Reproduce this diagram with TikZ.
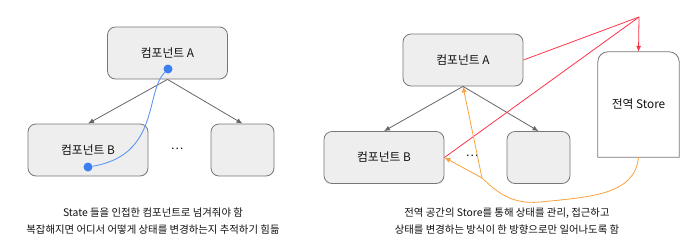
\documentclass[tikz,border=0pt]{standalone}
\usepackage{fontspec}
\setmainfont{Noto Sans CJK KR}
\usetikzlibrary{arrows.meta,positioning,calc}
\usepackage{xcolor}
\definecolor{boxfill}{HTML}{EEEEEE}
\definecolor{boxline}{HTML}{777777}
\definecolor{ink}{HTML}{111111}
\definecolor{flow}{HTML}{666666}
\definecolor{statedot}{HTML}{3B7FF0}
\definecolor{stateline}{HTML}{5E98F5}
\definecolor{storered}{HTML}{FF3348}
\definecolor{storeorange}{HTML}{F8A23E}
\tikzset{
  >=Latex,
  every node/.style={font=\fontsize{11.8}{14}\selectfont,text=ink},
  comp/.style={draw=boxline,line width=0.8pt,rounded corners=8pt,fill=boxfill,minimum width=120pt,minimum height=52pt,align=center,inner sep=0pt},
  smallcomp/.style={comp,minimum width=63pt},
  storebox/.style={minimum width=81pt,minimum height=105pt,inner sep=0pt,align=center},
  arrow/.style={->,line width=0.8pt,draw=flow,>={Latex[length=6pt,width=5pt]}},
  dot/.style={circle,fill=statedot,minimum size=9pt,inner sep=0pt},
  prop/.style={line width=0.9pt,draw=stateline},
  subscribe/.style={line width=0.8pt,draw=storered},
  dispatch/.style={line width=0.8pt,draw=storeorange},
  caption/.style={font=\fontsize{10.4}{17}\selectfont,align=center},
}
\begin{document}
\begin{tikzpicture}[x=1pt,y=-1pt]
\useasboundingbox (0,0) rectangle (700,247);

% Left: props drilling
\node[comp] (la) at (167.5,53) {컴포넌트 A};
\node[comp] (lb) at (88,150) {컴포넌트 B};
\node[smallcomp] (lc) at (242.5,150) {};
\node (ldots) at (177,149) {\dots};
\draw[arrow] (la.south) -- (lb.north);
\draw[arrow] (la.south) -- (lc.north);
\node[dot] (lsrc) at (168,69) {};
\node[dot] (ldst) at (88,167) {};
\draw[prop] (lsrc) .. controls (145,92) and (160,155) .. (ldst);
\node[caption] (lcap) at (153,221) {State 들을 인접한 컴포넌트로 넘겨줘야 함\\복잡해지면 어디서 어떻게 상태를 변경하는지 추적하기 힘듦};

% Right: global store
\node[comp] (ra) at (463,60) {컴포넌트 A};
\node[comp] (rb) at (384,157.5) {컴포넌트 B};
\node[smallcomp] (rc) at (538.5,157.5) {};
\node (rdots) at (472,156) {\dots};
\draw[arrow] (ra.south) -- (rb.north);
\draw[arrow] (ra.south) -- (rc.north);
\node[storebox] (store) at (638.5,104.5) {};
\draw[draw=boxline,line width=0.8pt,fill=white] (store.south west) -- ([yshift=-10pt]store.north west)
  arc[start angle=180,end angle=90,radius=10pt] -- ([xshift=-10pt]store.north east)
  arc[start angle=90,end angle=0,radius=10pt] -- (store.south east) -- cycle;
\node[storebox] at (store) {전역 Store};

\coordinate (hub) at (639,17);
\draw[subscribe] (hub) -- (ra.east);
\draw[subscribe] (hub) -- (rb.east);
\draw[subscribe,->,>={Latex[length=6pt,width=5pt]}] (hub) -- (store.north);

\coordinate (junc) at (482,178);
\draw[dispatch] (store.south) .. controls (635,195) and (590,197) .. (540,202)
  .. controls (510,205) and (495,190) .. (junc);
\draw[dispatch,->,>={Latex[length=6pt,width=5pt]}] (junc) -- (ra.south);
\draw[dispatch,->,>={Latex[length=6pt,width=5pt]}] (junc) -- (rb.east);

\node[caption] (rcap) at (507,221) {전역 공간의 Store를 통해 상태를 관리, 접근하고\\상태를 변경하는 방식이 한 방향으로만 일어나도록 함};

\end{tikzpicture}
\end{document}
